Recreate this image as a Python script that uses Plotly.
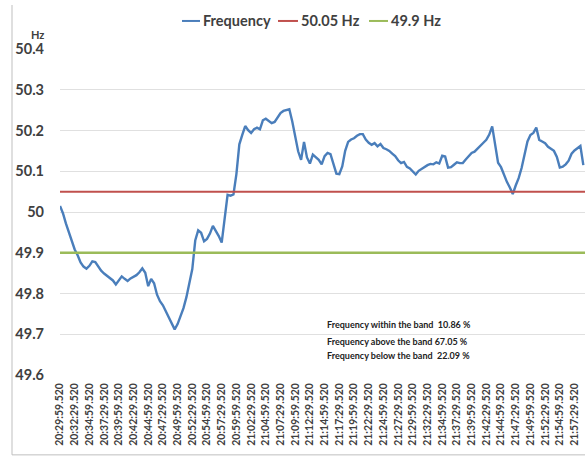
import plotly.graph_objects as go
import pandas as pd

# frequency readings, one every 30 s starting 20:29:59.520
freq = [
    50.015, 49.997, 49.972, 49.949, 49.925, 49.908, 49.894, 49.876, 49.866, 49.861,
    49.868, 49.879, 49.877, 49.865, 49.856, 49.849, 49.843, 49.839, 49.832, 49.822,
    49.833, 49.842, 49.836, 49.831, 49.837, 49.841, 49.845, 49.852, 49.862, 49.851,
    49.818, 49.836, 49.825, 49.797, 49.781, 49.771, 49.757, 49.742, 49.727, 49.712,
    49.725, 49.743, 49.764, 49.791, 49.823, 49.860, 49.930, 49.955, 49.949, 49.928,
    49.934, 49.947, 49.966, 49.955, 49.941, 49.925, 49.985, 50.042, 50.040, 50.043,
    50.093, 50.166, 50.189, 50.211, 50.201, 50.194, 50.203, 50.207, 50.203, 50.225,
    50.229, 50.223, 50.218, 50.221, 50.232, 50.243, 50.248, 50.250, 50.252, 50.222,
    50.187, 50.149, 50.128, 50.172, 50.134, 50.119, 50.141, 50.135, 50.128, 50.117,
    50.137, 50.145, 50.142, 50.118, 50.094, 50.093, 50.112, 50.150, 50.172, 50.178,
    50.181, 50.187, 50.191, 50.191, 50.178, 50.170, 50.165, 50.169, 50.161, 50.167,
    50.157, 50.154, 50.150, 50.143, 50.137, 50.127, 50.120, 50.123, 50.111, 50.107,
    50.100, 50.092, 50.101, 50.106, 50.109, 50.115, 50.118, 50.117, 50.122, 50.119,
    50.138, 50.136, 50.109, 50.110, 50.116, 50.122, 50.120, 50.120, 50.129, 50.138,
    50.145, 50.148, 50.156, 50.163, 50.170, 50.177, 50.190, 50.210, 50.160, 50.121,
    50.110, 50.090, 50.074, 50.060, 50.044, 50.065, 50.083, 50.108, 50.142, 50.173,
    50.189, 50.194, 50.207, 50.177, 50.173, 50.169, 50.160, 50.154, 50.150, 50.135,
    50.109, 50.111, 50.117, 50.126, 50.143, 50.151, 50.157, 50.162, 50.115,
]

upper_band = 50.05
lower_band = 49.9

tick_labels = [
    "20:29:59.520", "20:32:29.520", "20:34:59.520", "20:37:29.520", "20:39:59.520",
    "20:42:29.520", "20:44:59.520", "20:47:29.520", "20:49:59.520", "20:52:29.520",
    "20:54:59.520", "20:57:29.520", "20:59:59.520", "21:02:29.520", "21:04:59.520",
    "21:07:29.520", "21:09:59.520", "21:12:29.520", "21:14:59.520", "21:17:29.520",
    "21:19:59.520", "21:22:29.520", "21:24:59.520", "21:27:29.520", "21:29:59.520",
    "21:32:29.520", "21:34:59.520", "21:37:29.520", "21:39:59.520", "21:42:29.520",
    "21:44:59.520", "21:47:29.520", "21:49:59.520", "21:52:29.520", "21:54:59.520",
    "21:57:29.520",
]

y_ticks = [49.6, 49.7, 49.8, 49.9, 50.0, 50.1, 50.2, 50.3, 50.4]
y_tick_text = ["49.6", "49.7", "49.8", "49.9", "50", "50.1", "50.2", "50.3", "50.4"]

stats = [
    "Frequency within the band  10.86 %",
    "Frequency above the band 67.05 %",
    "Frequency below the band  22.09 %",
]

names = ["Frequency", "50.05 Hz", "49.9 Hz"]
colors = ["#4A7EBB", "#C0504D", "#9BBB59"]

day = "2020-01-01 "
t0 = pd.Timestamp(day + tick_labels[0])
times = pd.date_range(t0, periods=len(freq), freq="30s")
t_end = t0 + pd.Timedelta(seconds=5357)

FONT = "Lato"
TXT = "#404040"

fig = go.Figure()
fig.add_trace(go.Scatter(x=times, y=freq, mode="lines", name=names[0],
                         line=dict(color=colors[0], width=2.4)))
fig.add_trace(go.Scatter(x=[t0, t_end], y=[upper_band] * 2, mode="lines",
                         name=names[1], line=dict(color=colors[1], width=2)))
fig.add_trace(go.Scatter(x=[t0, t_end], y=[lower_band] * 2, mode="lines",
                         name=names[2], line=dict(color=colors[2], width=2.5)))

fig.update_layout(
    width=585, height=457,
    margin=dict(l=60, r=0, t=49, b=82, autoexpand=False),
    paper_bgcolor="white", plot_bgcolor="white",
    font=dict(family=FONT, color=TXT),
    showlegend=False,
    xaxis=dict(type="date", range=[t0, t_end],
               tickvals=[pd.Timestamp(day + t) for t in tick_labels],
               ticktext=tick_labels, tickangle=-90,
               tickfont=dict(size=10.5, weight="bold", color=TXT),
               showgrid=False, zeroline=False, showline=False, ticks="",
               ticklabelstandoff=5),
    yaxis=dict(range=[49.6, 50.4], tickvals=y_ticks, ticktext=y_tick_text,
               tickfont=dict(size=14.5, weight="bold", color=TXT),
               gridcolor="#E0E0E0", gridwidth=1, zeroline=False,
               showline=False, ticks="", ticklabelstandoff=15),
)

# legend drawn Excel-style: short line sample followed by the name
legend_x = [(0.2324, 0.2667), (0.4152, 0.4533), (0.5886, 0.6248)]
for (x0, x1), name, c in zip(legend_x, names, colors):
    fig.add_shape(type="line", xref="paper", yref="paper", x0=x0, x1=x1,
                  y0=1.086, y1=1.086, line=dict(color=c, width=2))
    fig.add_annotation(text=name, xref="paper", yref="paper", x=x1 + 0.002, y=1.086,
                       xanchor="left", yanchor="middle", showarrow=False,
                       font=dict(size=14.5, weight="bold", color=TXT))

fig.add_annotation(text="Hz", xref="paper", yref="paper",
                   x=-0.06, y=1.072, showarrow=False,
                   font=dict(size=11, weight="bold", color=TXT))

for y, s in zip([0.156, 0.104, 0.061], stats):
    fig.add_annotation(text=s, xref="paper", yref="paper",
                       x=0.505, y=y, xanchor="left", yanchor="middle",
                       showarrow=False, font=dict(size=9, weight="bold", color="#222222"))

# chart frame edges
fig.add_shape(type="line", xref="paper", yref="paper", x0=-0.0914, x1=-0.0914,
              y0=-0.245, y1=1.135, line=dict(color="#BFBFBF", width=1))
fig.add_shape(type="line", xref="paper", yref="paper", x0=-0.0914, x1=1.0,
              y0=-0.245, y1=-0.245, line=dict(color="#BFBFBF", width=1))

# drop the page's default 8px body margin so the figure sits at the corner
fig.write_html("out.html", config={"displayModeBar": False},
               post_script="document.body.style.margin='0';")
